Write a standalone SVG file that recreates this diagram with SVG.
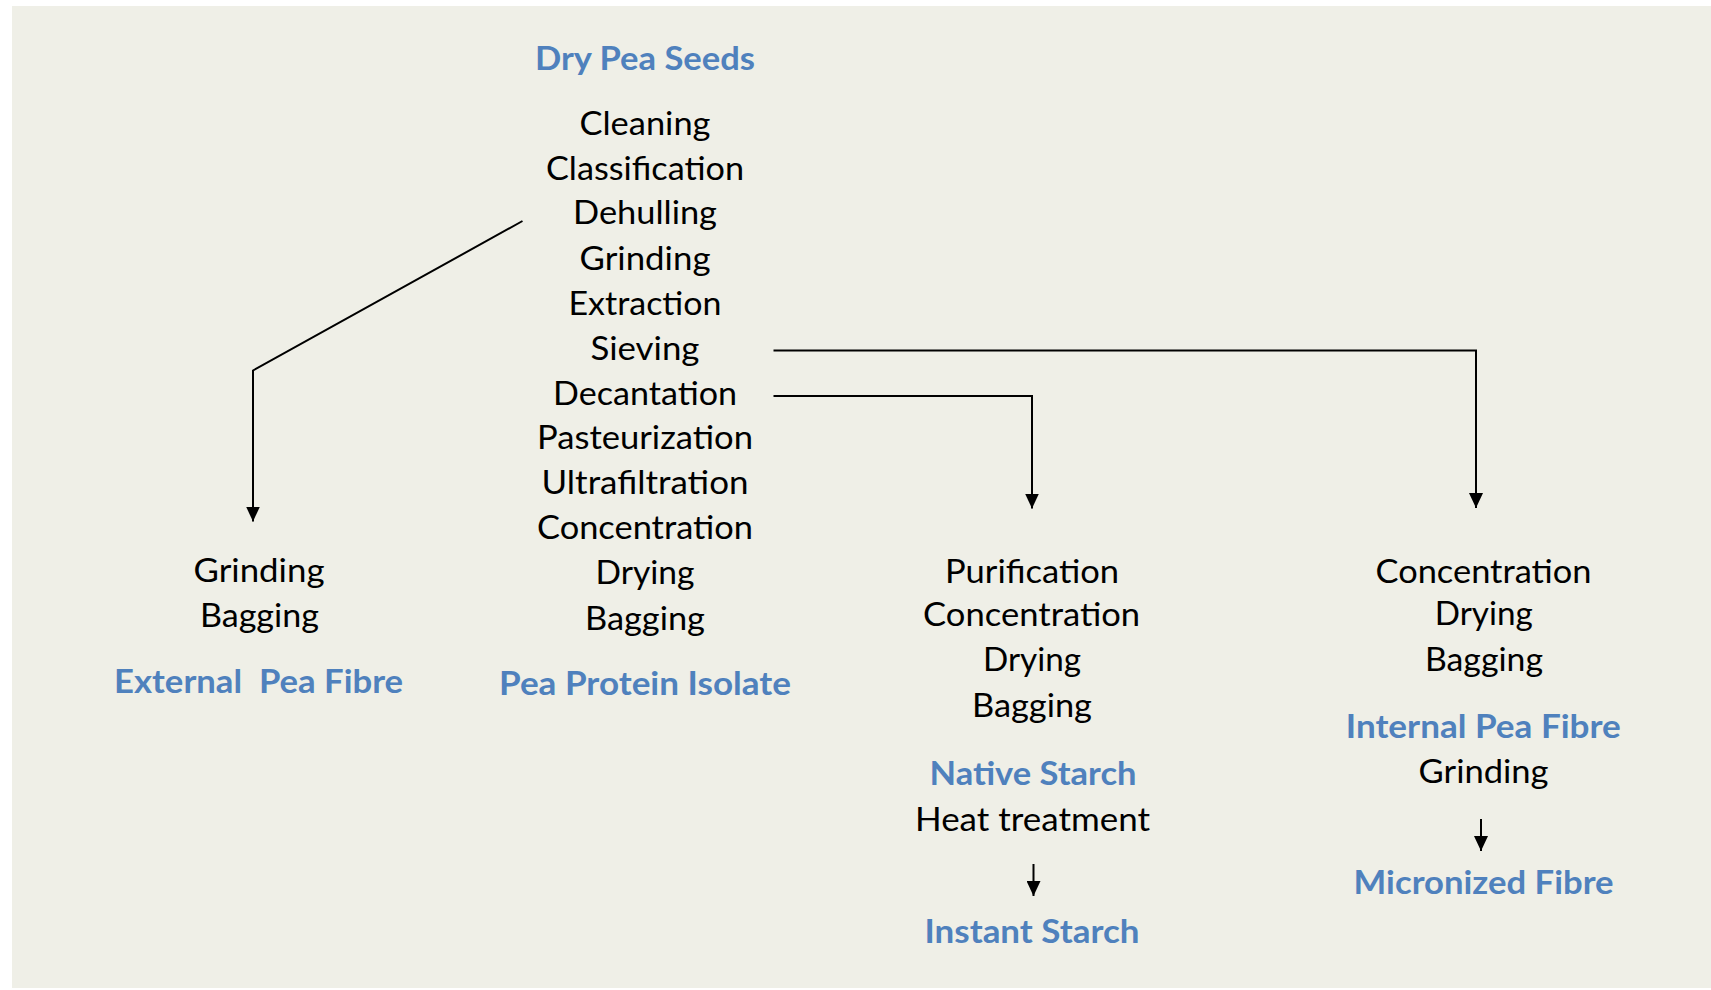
<svg xmlns="http://www.w3.org/2000/svg" width="1711" height="990" viewBox="0 0 1711 990">
<style>
  text { font-family: Lato, "Open Sans", "Liberation Sans", sans-serif; font-size: 32px; text-anchor: middle; fill: #000; }
  .t { font-weight: bold; fill: #4F81BD; }
  .c { fill: none; stroke: #000; stroke-width: 2; }
</style>
<defs>
  <marker id="ah" viewBox="0 -7 15 14" refX="15" refY="0" markerWidth="15" markerHeight="14" markerUnits="userSpaceOnUse" orient="auto">
    <path d="M0,-7 L15,0 L0,7 z" fill="#000"/>
  </marker>
</defs>
<rect x="12" y="6" width="1699" height="982" fill="#EFEFE7"/>
<g id="connectors">
  <polyline class="c" points="522.5,221 253,370.5 253,521.5" marker-end="url(#ah)"/>
  <polyline class="c" points="773.5,350.5 1476,350.5 1476,508" marker-end="url(#ah)"/>
  <polyline class="c" points="773.5,396 1032,396 1032,508.5" marker-end="url(#ah)"/>
  <line class="c" x1="1033.5" y1="864" x2="1033.5" y2="896" marker-end="url(#ah)"/>
  <line class="c" x1="1481" y1="819" x2="1481" y2="851" marker-end="url(#ah)"/>
</g>
<g id="main-process">
  <text class="t" x="645" y="70" textLength="220" lengthAdjust="spacingAndGlyphs">Dry Pea Seeds</text>
  <text x="645" y="135" textLength="131" lengthAdjust="spacingAndGlyphs">Cleaning</text>
  <text x="645" y="179.5" textLength="198" lengthAdjust="spacingAndGlyphs">Classification</text>
  <text x="645" y="224" textLength="144" lengthAdjust="spacingAndGlyphs">Dehulling</text>
  <text x="645" y="269.5" textLength="131" lengthAdjust="spacingAndGlyphs">Grinding</text>
  <text x="645" y="314.5" textLength="153" lengthAdjust="spacingAndGlyphs">Extraction</text>
  <text x="645" y="359.5" textLength="109" lengthAdjust="spacingAndGlyphs">Sieving</text>
  <text x="645" y="405" textLength="184" lengthAdjust="spacingAndGlyphs">Decantation</text>
  <text x="645" y="448.5" textLength="216" lengthAdjust="spacingAndGlyphs">Pasteurization</text>
  <text x="645" y="494" textLength="207" lengthAdjust="spacingAndGlyphs">Ultrafiltration</text>
  <text x="645" y="538.5" textLength="216" lengthAdjust="spacingAndGlyphs">Concentration</text>
  <text x="645" y="584" textLength="99" lengthAdjust="spacingAndGlyphs">Drying</text>
  <text x="645" y="629.5" textLength="120" lengthAdjust="spacingAndGlyphs">Bagging</text>
  <text class="t" x="645" y="695" textLength="292" lengthAdjust="spacingAndGlyphs">Pea Protein Isolate</text>
</g>
<g id="external-fibre">
  <text x="259" y="581.7" textLength="131" lengthAdjust="spacingAndGlyphs">Grinding</text>
  <text x="259.5" y="626.7" textLength="119" lengthAdjust="spacingAndGlyphs">Bagging</text>
  <text class="t" x="258.6" y="693.3" textLength="289" lengthAdjust="spacingAndGlyphs" xml:space="preserve">External  Pea Fibre</text>
</g>
<g id="starch">
  <text x="1032" y="582.7" textLength="174" lengthAdjust="spacingAndGlyphs">Purification</text>
  <text x="1031.6" y="626" textLength="217" lengthAdjust="spacingAndGlyphs">Concentration</text>
  <text x="1032" y="671" textLength="98" lengthAdjust="spacingAndGlyphs">Drying</text>
  <text x="1032" y="717" textLength="120" lengthAdjust="spacingAndGlyphs">Bagging</text>
  <text class="t" x="1033" y="785" textLength="207" lengthAdjust="spacingAndGlyphs">Native Starch</text>
  <text x="1032.5" y="830.7" textLength="235" lengthAdjust="spacingAndGlyphs">Heat treatment</text>
  <text class="t" x="1032" y="942.7" textLength="215" lengthAdjust="spacingAndGlyphs">Instant Starch</text>
</g>
<g id="internal-fibre">
  <text x="1483.5" y="582.7" textLength="216" lengthAdjust="spacingAndGlyphs">Concentration</text>
  <text x="1483.8" y="625" textLength="98" lengthAdjust="spacingAndGlyphs">Drying</text>
  <text x="1484" y="670.7" textLength="118" lengthAdjust="spacingAndGlyphs">Bagging</text>
  <text class="t" x="1483.3" y="738.3" textLength="275" lengthAdjust="spacingAndGlyphs">Internal Pea Fibre</text>
  <text x="1483.6" y="783.3" textLength="130" lengthAdjust="spacingAndGlyphs">Grinding</text>
  <text class="t" x="1483.6" y="894" textLength="260" lengthAdjust="spacingAndGlyphs">Micronized Fibre</text>
</g>
</svg>
